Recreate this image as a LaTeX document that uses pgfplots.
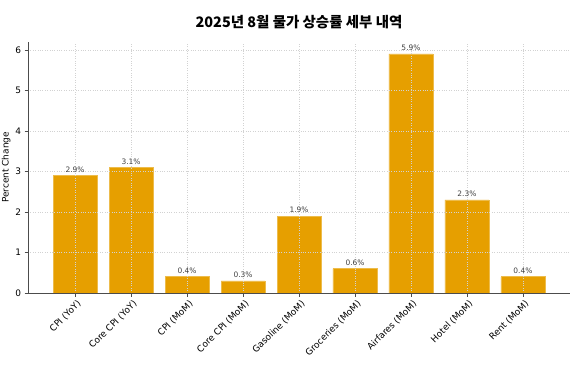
\documentclass[border=0pt]{standalone}
\usepackage{pgfplots}
\pgfplotsset{compat=1.18}
\usepackage{fontspec}
\setmainfont{DejaVu Sans}
\newfontfamily\kr{Noto Sans CJK KR}
\definecolor{barc}{HTML}{E69F00}
\begin{document}
\begin{tikzpicture}[x=1bp,y=1bp]
\useasboundingbox (0,0) rectangle (576,384);
\begin{axis}[
  at={(28bp,91bp)}, anchor=south west,
  scale only axis, width=542bp, height=251bp,
  xmin=-0.84, xmax=8.84, ymin=0, ymax=6.195,
  axis lines*=left,
  axis line style={black!70, line width=0.8pt},
  xtick={0,...,8},
  xticklabels={CPI (YoY),Core CPI (YoY),CPI (MoM),Core CPI (MoM),Gasoline (MoM),Groceries (MoM),Airfares (MoM),Hotel (MoM),Rent (MoM)},
  x tick label style={rotate=45, anchor=north east, font=\fontsize{9}{11}\selectfont, inner sep=1pt, yshift=-2bp},
  ytick={0,...,6},
  y tick label style={font=\fontsize{9}{11}\selectfont},
  /pgf/number format/assume math mode=true,
  tick align=outside, tick pos=left,
  major tick length=3.5bp,
  tick style={black!70, line width=0.8pt},
  grid=major,
  major grid style={gray!35, dotted, line width=0.6pt},
  axis on top,
  ylabel={Percent Change},
  ylabel style={font=\fontsize{9}{11}\selectfont, yshift=-2bp},
  title={\kr\bfseries 2025년 8월 물가 상승률 세부 내역},
  title style={font=\fontsize{14.5}{16}\selectfont, yshift=4bp},
  ybar, bar width=44bp,
  nodes near coords={\pgfmathprintnumber[fixed,precision=1,fixed zerofill]{\pgfplotspointmeta}\%},
  nodes near coords style={font=\fontsize{7.5}{9}\selectfont, text=black!75, inner sep=2pt, yshift=1bp},
]
\addplot[fill=barc, draw=barc!70!white, line width=0.6pt] coordinates {
(0,2.9) (1,3.1) (2,0.4) (3,0.3) (4,1.9) (5,0.6) (6,5.9) (7,2.3) (8,0.4)};
\end{axis}
\end{tikzpicture}
\end{document}
